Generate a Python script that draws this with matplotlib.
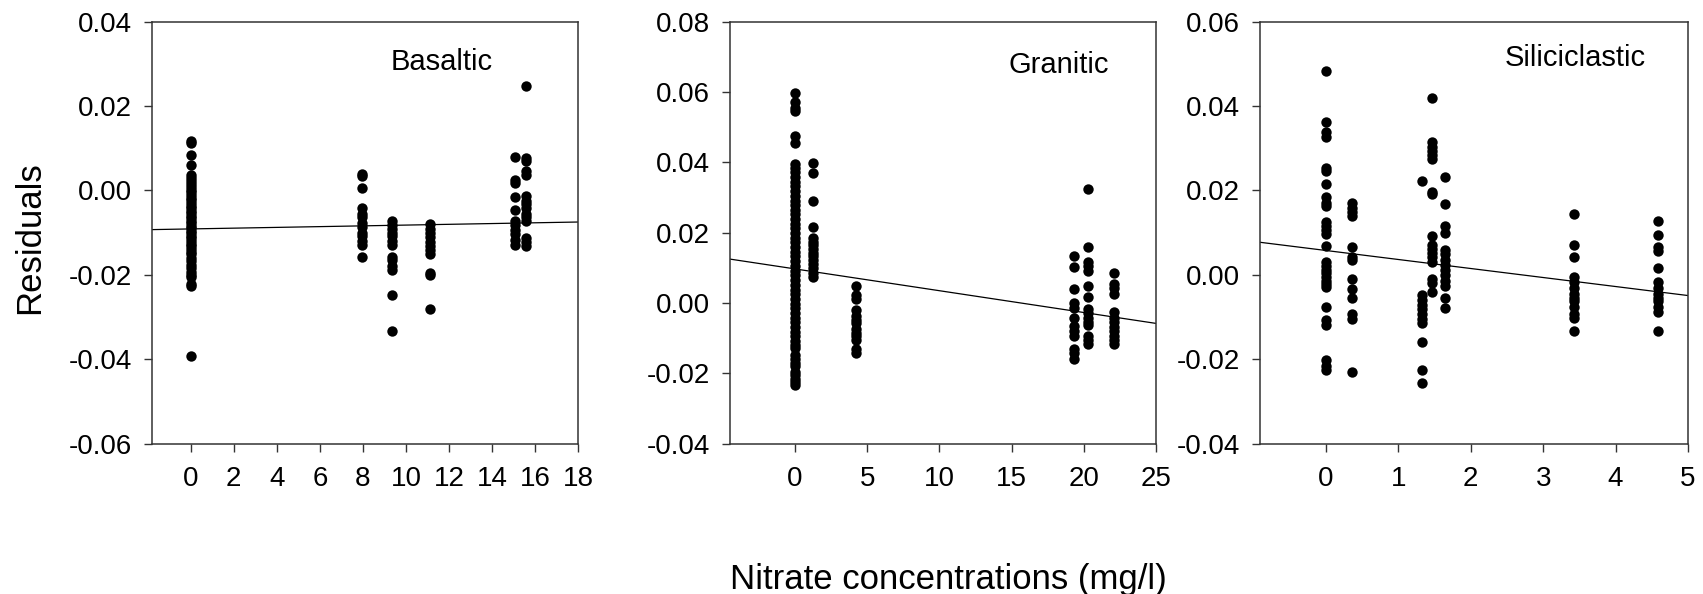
import matplotlib
matplotlib.use("Agg")
import matplotlib.pyplot as plt
import numpy as np
from matplotlib.ticker import FormatStrFormatter

plt.rcParams["font.family"] = ["Liberation Sans", "DejaVu Sans"]
plt.rcParams["axes.unicode_minus"] = False

# ---- Basaltic aquifer: nitrate (mg/l) and model residuals per sampling group ----
basaltic_nitrate = [0.0, 7.94, 9.36, 11.12, 15.09, 15.6]
basaltic_residuals = [
    [0.0118, 0.0112, 0.0083, 0.0059, 0.0037, 0.0030, 0.0022, 0.0015, 0.0008, 0.0002,
     -0.0005, -0.0012, -0.0018, -0.0024, -0.0030, -0.0036, -0.0042, -0.0048, -0.0054,
     -0.0060, -0.0066, -0.0072, -0.0078, -0.0084, -0.0090, -0.0096, -0.0102, -0.0108,
     -0.0114, -0.0120, -0.0126, -0.0132, -0.0138, -0.0145, -0.0152, -0.0160, -0.0168,
     -0.0176, -0.0185, -0.0193, -0.0201, -0.0205, -0.0222, -0.0227, -0.0393],
    [0.0039, 0.0035, 0.0006, -0.0042, -0.0055, -0.0064, -0.0077, -0.0086, -0.0100,
     -0.0108, -0.0120, -0.0130, -0.0157],
    [-0.0073, -0.0082, -0.0091, -0.0100, -0.0108, -0.0120, -0.0130, -0.0157, -0.0166,
     -0.0179, -0.0188, -0.0249, -0.0333],
    [-0.0080, -0.0091, -0.0100, -0.0111, -0.0122, -0.0132, -0.0141, -0.0152, -0.0196,
     -0.0201, -0.0282],
    [0.0079, 0.0024, 0.0018, -0.0016, -0.0047, -0.0073, -0.0082, -0.0093, -0.0104,
     -0.0117, -0.0130],
    [0.0248, 0.0077, 0.0070, 0.0046, 0.0037, -0.0014, -0.0025, -0.0033, -0.0042,
     -0.0055, -0.0064, -0.0073, -0.0113, -0.0122, -0.0133],
]

# ---- Granitic aquifer ----
granitic_nitrate = [0.0, 1.23, 4.21, 19.3, 20.28, 22.07]
granitic_residuals = [
    [0.0597, 0.0571, 0.0555, 0.0546, 0.0476, 0.0454,
     0.0396, 0.0385, 0.0372, 0.0358, 0.0345, 0.0332, 0.0318, 0.0305, 0.0290, 0.0278,
     0.0265, 0.0252, 0.0238, 0.0225, 0.0212, 0.0198, 0.0185, 0.0172, 0.0158, 0.0145,
     0.0132, 0.0118, 0.0105, 0.0092, 0.0078, 0.0065, 0.0052, 0.0038, 0.0025, 0.0012,
     -0.0002, -0.0015, -0.0028, -0.0042, -0.0055, -0.0068, -0.0082, -0.0095, -0.0108,
     -0.0120, -0.0127, -0.0148, -0.0159, -0.0170, -0.0180, -0.0196, -0.0206, -0.0217,
     -0.0225, -0.0233],
    [0.0399, 0.0370, 0.0290, 0.0217, 0.0185, 0.0174, 0.0164, 0.0153, 0.0143, 0.0132,
     0.0121, 0.0111, 0.0100, 0.0084, 0.0074],
    [0.0047, 0.0021, 0.0010, -0.0021, -0.0037, -0.0048, -0.0058, -0.0074, -0.0085,
     -0.0095, -0.0106, -0.0132, -0.0143],
    [0.0134, 0.0102, 0.0039, -0.0001, -0.0014, -0.0042, -0.0067, -0.0079, -0.0095,
     -0.0132, -0.0143, -0.0159],
    [0.0324, 0.0158, 0.0116, 0.0106, 0.0092, 0.0047, 0.0016, -0.0018, -0.0029, -0.0042,
     -0.0053, -0.0064, -0.0095, -0.0106, -0.0116],
    [0.0084, 0.0053, 0.0042, 0.0024, -0.0027, -0.0042, -0.0053, -0.0069, -0.0079,
     -0.0095, -0.0106, -0.0116],
]

# ---- Siliciclastic aquifer ----
siliciclastic_nitrate = [0.0, 0.36, 1.33, 1.47, 1.64, 3.43, 4.59]
siliciclastic_residuals = [
    [0.0484, 0.0362, 0.0338, 0.0327, 0.0253, 0.0246, 0.0215, 0.0184, 0.0171, 0.0162,
     0.0124, 0.0115, 0.0105, 0.0096, 0.0068, 0.0030, 0.0021, 0.0012, 0.0004, -0.0005,
     -0.0014, -0.0023, -0.0029, -0.0076, -0.0107, -0.0120, -0.0203, -0.0217, -0.0225],
    [0.0171, 0.0159, 0.0149, 0.0140, 0.0065, 0.0043, 0.0036, -0.0011, -0.0034, -0.0054,
     -0.0093, -0.0105, -0.0230],
    [0.0222, -0.0049, -0.0061, -0.0071, -0.0082, -0.0093, -0.0105, -0.0115, -0.0160,
     -0.0225, -0.0256],
    [0.0418, 0.0315, 0.0303, 0.0294, 0.0283, 0.0274, 0.0197, 0.0191, 0.0092, 0.0070,
     0.0061, 0.0052, 0.0041, 0.0030, -0.0010, -0.0020, -0.0040],
    [0.0231, 0.0167, 0.0115, 0.0100, 0.0059, 0.0048, 0.0036, 0.0024, 0.0012, -0.0001,
     -0.0014, -0.0027, -0.0054, -0.0080],
    [0.0145, 0.0071, 0.0043, -0.0005, -0.0018, -0.0032, -0.0045, -0.0054, -0.0063,
     -0.0076, -0.0093, -0.0102, -0.0133],
    [0.0127, 0.0094, 0.0065, 0.0056, 0.0017, -0.0018, -0.0032, -0.0045, -0.0054,
     -0.0063, -0.0076, -0.0089, -0.0133],
]

# Linear trend of residuals vs nitrate (intercept, slope) for each aquifer
fit_intercepts = [-0.00914, 0.00966, 0.00575]
fit_slopes = [0.0000909, -0.00062, -0.002136]

panel_names = ["Basaltic", "Granitic", "Siliciclastic"]
x_ticks = [list(range(0, 19, 2)), list(range(0, 26, 5)), list(range(0, 6))]
y_ticks = [[-0.06, -0.04, -0.02, 0.00, 0.02, 0.04],
           [-0.04, -0.02, 0.00, 0.02, 0.04, 0.06, 0.08],
           [-0.04, -0.02, 0.00, 0.02, 0.04, 0.06]]

fig = plt.figure(figsize=(17.03, 5.94), dpi=100)

W, H = 1703.0, 594.0
ax_top, ax_bottom = 21.6, 443.5
ax_boxes = [(152, 578), (730, 1156), (1260, 1688)]
x_limits = [(-1.8, 18), (-4.5, 25), (-0.91, 5)]
name_pos = [(0.68, 0.904), (0.772, 0.898), (0.736, 0.913)]

panels = [
    (basaltic_nitrate, basaltic_residuals),
    (granitic_nitrate, granitic_residuals),
    (siliciclastic_nitrate, siliciclastic_residuals),
]

for i, (nitrate, residuals) in enumerate(panels):
    left, right = ax_boxes[i]
    ax = fig.add_axes([left / W, 1 - ax_bottom / H, (right - left) / W,
                       (ax_bottom - ax_top) / H])
    xs, ys = [], []
    for conc, vals in zip(nitrate, residuals):
        xs.extend([conc] * len(vals))
        ys.extend(vals)
    ax.scatter(xs, ys, s=56, c="black", linewidths=0, zorder=3)

    x0, x1 = x_limits[i]
    line_x = np.array([x0, x1])
    ax.plot(line_x, fit_intercepts[i] + fit_slopes[i] * line_x,
            color="black", lw=0.9, zorder=2)

    ax.set_xlim(x0, x1)
    ax.set_ylim(y_ticks[i][0], y_ticks[i][-1])
    ax.set_xticks(x_ticks[i])
    ax.set_yticks(y_ticks[i])
    ax.yaxis.set_major_formatter(FormatStrFormatter("%.2f"))
    ax.tick_params(axis="both", direction="out", length=5.8, width=1.0,
                   labelsize=20, top=False, right=False, color="#333333")
    ax.tick_params(axis="x", pad=10.5)
    ax.tick_params(axis="y", pad=8.5)
    for sp in ax.spines.values():
        sp.set_linewidth(1.1)
        sp.set_color("#333333")

    ax.text(name_pos[i][0], name_pos[i][1], panel_names[i], transform=ax.transAxes,
            ha="center", va="center", fontsize=21)

fig.text(30 / W, 1 - 238 / H, "Residuals", rotation=90, ha="center", va="center",
         fontsize=25)
fig.text(948 / W, 1 - 579 / H, "Nitrate concentrations (mg/l)", ha="center",
         va="center", fontsize=25)

fig.savefig("out.png", dpi=100, facecolor="white")
